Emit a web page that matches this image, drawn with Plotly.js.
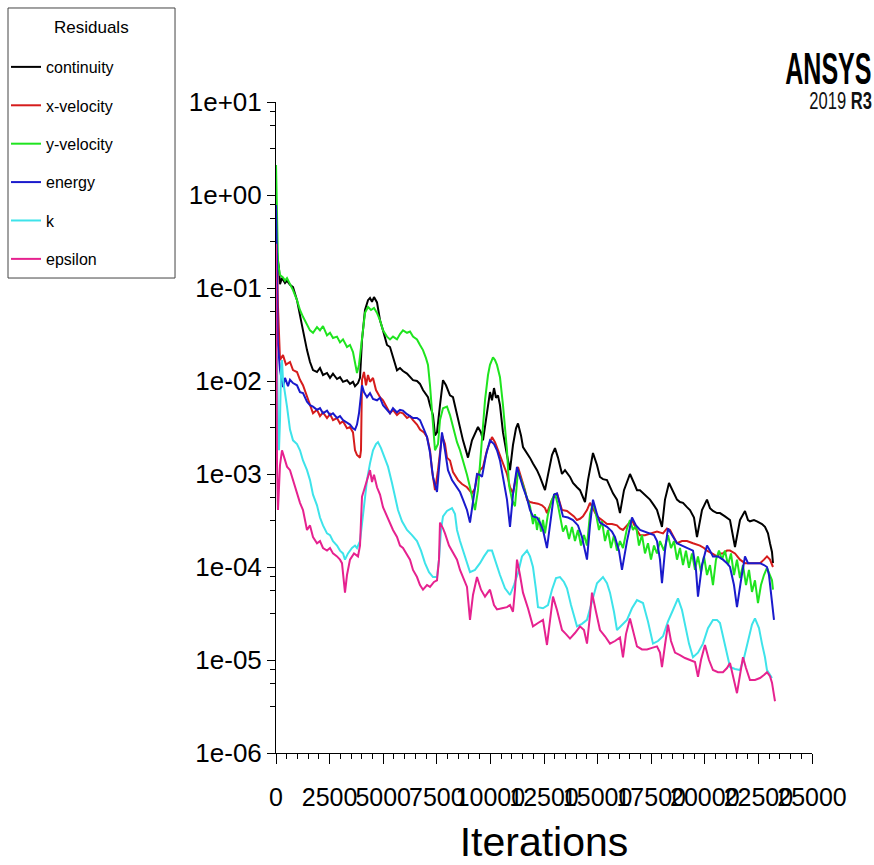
<!DOCTYPE html>
<html>
<head>
<meta charset="utf-8">
<script src="https://cdn.plot.ly/plotly-3.0.1.min.js"></script>
<style>
  html, body { margin: 0; padding: 0; background: #ffffff; }
  #chart { width: 874px; height: 865px; }
</style>
</head>
<body>
<div id="chart"></div>
<script>
// Scaled residual history of the solver run (log scale).

const continuityIter = [1,140,187,280,420,513,653,793,979,1119,1259,1446,1586,1726,1912,2052,2192,2379,2519,2658,2845,2985,3125,3311,3451,3591,3685,3824,3918,4011,4151,4291,4384,4478,4571,4711,4851,4991,5177,5317,5457,5643,5783,5923,6110,6250,6390,6576,6716,6856,7089,7183,7322,7416,7509,7649,7789,7929,8115,8255,8442,8582,8722,8955,9141,9421,9561,9655,9794,9888,9981,10074,10168,10261,10354,10447,10587,10774,10914,11053,11194,11287,11427,11520,11707,11847,11986,12173,12313,12546,12686,12873,13012,13152,13339,13479,13712,13852,14038,14178,14412,14552,14785,14971,15111,15251,15438,15578,15717,15904,16044,16231,16510,16697,16837,16977,17117,17303,17443,17630,17770,18003,18143,18330,18516,18703,18843,18983,19169,19309,19496,19636,19869,20102,20242,20381,20568,20708,20941,21175,21408,21641,21874,22014,22107,22294,22434,22667,22807,22947,23040,23134,23180];
const continuityRes = [0.3,0.16,0.11,0.128,0.113,0.12,0.108,0.102,0.074,0.049,0.035,0.0215,0.016,0.0131,0.0125,0.0138,0.0116,0.0122,0.0108,0.012,0.0105,0.011,0.0098,0.0102,0.0093,0.0098,0.0088,0.0095,0.0108,0.0276,0.058,0.074,0.078,0.071,0.08,0.07,0.045,0.035,0.0244,0.0232,0.018,0.013,0.0138,0.0128,0.012,0.011,0.0102,0.01,0.0093,0.008,0.0067,0.0055,0.0043,0.0026,0.0028,0.0055,0.0102,0.009,0.007,0.0067,0.0043,0.0032,0.0023,0.0015,0.0023,0.0032,0.0028,0.0023,0.0038,0.0055,0.0076,0.0062,0.0084,0.0066,0.007,0.0055,0.0028,0.0016,0.0011,0.00205,0.0031,0.0035,0.0026,0.00195,0.0017,0.00149,0.0013,0.0011,0.00093,0.00067,0.00098,0.0016,0.0019,0.0015,0.001,0.0011,0.00093,0.0008,0.00072,0.00067,0.0005,0.00086,0.00168,0.00125,0.00093,0.00088,0.00086,0.00072,0.00062,0.00053,0.00038,0.00067,0.001,0.0008,0.00067,0.00067,0.00062,0.00057,0.00053,0.00046,0.00041,0.00027,0.00053,0.0008,0.00064,0.00053,0.0005,0.00049,0.00044,0.00041,0.00034,0.00021,0.00041,0.00053,0.00043,0.0004,0.00038,0.00038,0.00035,0.00032,0.000164,0.00032,0.0004,0.00032,0.00031,0.00032,0.00031,0.00029,0.00027,0.00023,0.00018,0.000145,0.00011];

const xVelocityIter = [1,47,93,140,187,326,466,653,793,979,1119,1259,1446,1586,1726,1912,2052,2192,2379,2519,2658,2845,2985,3125,3311,3451,3591,3685,3778,3918,3964,4011,4104,4198,4291,4384,4524,4664,4851,4991,5177,5317,5457,5643,5783,5923,6110,6250,6390,6576,6716,6903,7043,7183,7276,7416,7556,7742,7882,7975,8115,8255,8488,8675,8908,9141,9281,9375,9515,9655,9841,10074,10214,10354,10587,10774,10914,11053,11287,11473,11613,11707,11847,11986,12220,12406,12546,12639,12873,13106,13246,13339,13572,13712,13899,14038,14178,14318,14505,14645,14832,14971,15205,15438,15671,15904,16044,16184,16371,16604,16790,16977,17210,17443,17770,18050,18236,18376,18563,18703,18936,19169,19449,19775,19962,20102,20335,20568,20708,20848,21035,21175,21408,21641,21874,22107,22340,22574,22760,22900,23040,23180];
const xVelocityRes = [0.3,0.2,0.0625,0.0276,0.0168,0.019,0.015,0.016,0.0131,0.0125,0.0103,0.009,0.0067,0.0055,0.0045,0.0049,0.0042,0.0046,0.004,0.0044,0.0038,0.004,0.0035,0.0037,0.0031,0.0032,0.0028,0.0018,0.0016,0.0015,0.0018,0.0103,0.0125,0.009,0.0116,0.0098,0.0108,0.008,0.0067,0.0062,0.0051,0.0045,0.0049,0.0043,0.0046,0.0045,0.004,0.0042,0.0038,0.0034,0.003,0.0028,0.0025,0.0018,0.0011,0.00067,0.0011,0.0026,0.0021,0.0015,0.0014,0.00105,0.00086,0.00078,0.00072,0.00062,0.0007,0.00093,0.0011,0.00119,0.0018,0.0025,0.0022,0.0018,0.00125,0.001,0.00072,0.00062,0.00119,0.00086,0.00067,0.00053,0.0005,0.00049,0.00048,0.00046,0.00043,0.00038,0.00053,0.00062,0.00049,0.00041,0.0004,0.00038,0.00035,0.00032,0.00033,0.00035,0.00041,0.00049,0.0004,0.00035,0.00032,0.00029,0.00029,0.00028,0.00026,0.00025,0.00028,0.00032,0.00026,0.00022,0.00022,0.00023,0.00024,0.00023,0.00026,0.00025,0.000205,0.00018,0.00019,0.00019,0.00018,0.00017,0.00016,0.00015,0.00014,0.00013,0.00014,0.00014,0.00015,0.00015,0.00014,0.00012,0.00011,0.00011,0.000108,0.00011,0.00012,0.00013,0.00012,0.0001];

const yVelocityIter = [1,47,70,93,187,326,420,513,653,793,979,1119,1259,1446,1586,1726,1912,2052,2192,2379,2519,2658,2845,2985,3125,3311,3451,3591,3685,3778,3871,4011,4151,4291,4431,4571,4711,4851,4991,5177,5317,5457,5643,5783,5923,6110,6250,6390,6576,6716,6856,6996,7089,7183,7276,7416,7556,7649,7789,7975,8115,8255,8442,8582,8722,8908,9048,9188,9281,9421,9608,9748,9888,9981,10121,10214,10307,10447,10587,10680,10774,10867,11007,11147,11287,11380,11520,11707,11847,11986,12080,12173,12266,12360,12453,12546,12686,12873,13012,13152,13292,13386,13526,13666,13806,13945,14085,14225,14365,14505,14645,14785,14925,15065,15205,15345,15484,15624,15764,15904,16044,16184,16371,16510,16650,16790,16930,17070,17210,17350,17490,17630,17770,17910,18096,18283,18423,18563,18703,18843,18983,19122,19262,19402,19542,19682,19822,19962,20102,20242,20381,20521,20661,20801,20941,21081,21221,21361,21501,21641,21781,21921,22061,22200,22340,22480,22620,22760,22900,23040,23134,23180];
const yVelocityRes = [2.1,0.69,0.33,0.186,0.138,0.13,0.12,0.128,0.11,0.095,0.074,0.058,0.049,0.04,0.035,0.033,0.038,0.035,0.039,0.031,0.033,0.029,0.03,0.026,0.028,0.0232,0.0244,0.0205,0.0149,0.0122,0.0149,0.0276,0.054,0.0625,0.058,0.061,0.054,0.045,0.035,0.03,0.028,0.03,0.028,0.032,0.035,0.033,0.034,0.03,0.028,0.0244,0.0215,0.0176,0.0149,0.009,0.0045,0.0018,0.0021,0.0038,0.0051,0.0053,0.0043,0.0032,0.0022,0.0018,0.0014,0.00098,0.00072,0.00053,0.00041,0.00067,0.0023,0.0062,0.0116,0.0149,0.018,0.0168,0.0149,0.011,0.0055,0.003,0.0018,0.00076,0.00053,0.00045,0.0011,0.00093,0.00076,0.00055,0.00045,0.00029,0.00037,0.00025,0.00034,0.00024,0.00032,0.00023,0.00037,0.00053,0.00062,0.00046,0.00032,0.00024,0.00028,0.0002,0.00027,0.00019,0.00025,0.00017,0.00022,0.00017,0.00037,0.00049,0.00037,0.00025,0.00031,0.00019,0.00025,0.00016,0.00022,0.00015,0.00019,0.00016,0.00026,0.00032,0.00025,0.00028,0.00017,0.00022,0.00014,0.00018,0.00012,0.00017,0.00014,0.00019,0.00015,0.00022,0.00016,0.00019,0.00012,0.00016,0.000105,0.00015,0.000098,0.00014,0.000093,0.00013,0.000088,0.00013,0.000082,0.000105,0.000064,0.00012,0.00015,0.00012,0.00015,0.000105,0.00014,0.000082,0.00012,0.000076,0.000105,0.000064,0.000093,0.000054,0.000072,0.000041,0.000064,0.000082,0.000098,0.000082,0.000072,0.000057];

const energyIter = [1,47,70,93,187,326,420,560,653,793,979,1119,1259,1446,1586,1726,1912,2052,2192,2379,2519,2658,2845,2985,3125,3311,3451,3591,3685,3778,3871,3964,4011,4104,4244,4384,4524,4711,4851,4991,5177,5317,5457,5643,5783,5923,6110,6250,6390,6576,6716,6903,7043,7183,7322,7509,7649,7742,7882,8022,8209,8442,8582,8722,8908,9048,9188,9375,9515,9608,9794,9981,10168,10307,10447,10587,10774,10914,11053,11240,11380,11520,11707,11847,11986,12173,12313,12453,12639,12826,12966,13106,13246,13386,13619,13852,14085,14272,14412,14505,14645,14785,14971,15111,15438,15671,15811,15997,16137,16371,16604,16790,16977,17210,17443,17630,17770,17910,18003,18143,18283,18470,18703,18936,19169,19449,19589,19682,19869,20102,20242,20381,20615,20848,21035,21175,21361,21501,21688,21874,22014,22200,22387,22574,22760,22900,22994,23087,23180,23227];
const energyRes = [0.78,0.2,0.035,0.0244,0.0131,0.0086,0.0108,0.0088,0.0103,0.0095,0.009,0.0076,0.0074,0.006,0.0055,0.0053,0.0049,0.0051,0.0045,0.0048,0.0043,0.0045,0.004,0.0042,0.0038,0.0036,0.0034,0.0031,0.003,0.0034,0.0045,0.0071,0.009,0.0076,0.0067,0.0074,0.0064,0.0062,0.0066,0.0055,0.0049,0.0045,0.0051,0.0046,0.0049,0.0048,0.0044,0.0042,0.004,0.004,0.0038,0.003,0.0025,0.0017,0.00093,0.00064,0.0016,0.0028,0.0018,0.0011,0.00086,0.00072,0.00064,0.00053,0.00041,0.0003,0.00053,0.001,0.00098,0.00093,0.0016,0.0023,0.0021,0.0018,0.0014,0.00093,0.00053,0.00027,0.0006,0.00119,0.0009,0.00072,0.00055,0.00041,0.00035,0.00034,0.0003,0.00025,0.00016,0.00037,0.0006,0.00062,0.00046,0.00035,0.00034,0.00032,0.00028,0.00021,0.00015,0.00012,0.00028,0.00053,0.00037,0.0003,0.00027,0.00024,0.00021,0.00015,0.000093,0.00019,0.00034,0.00028,0.00025,0.00024,0.00023,0.00022,0.00019,0.00012,0.000067,0.00015,0.00026,0.00022,0.00018,0.00017,0.00016,0.00015,0.000093,0.000048,0.000105,0.00017,0.00015,0.00013,0.00013,0.00012,0.00011,0.0001,0.000064,0.000037,0.000072,0.00013,0.00011,0.00011,0.00011,0.00011,0.000105,0.0001,0.000082,0.000053,0.000035,0.000027];

const kIter = [1,47,93,140,187,233,280,326,513,653,793,979,1119,1259,1446,1586,1726,1912,2052,2192,2379,2519,2658,2845,2985,3125,3218,3358,3545,3685,3778,3918,4011,4151,4244,4384,4524,4664,4757,4897,5084,5224,5410,5550,5690,5877,6110,6343,6576,6763,6949,7136,7322,7509,7602,7696,7789,7975,8209,8349,8442,8582,8722,8908,9048,9281,9515,9701,9888,10074,10261,10447,10680,10914,11100,11287,11473,11707,11847,11986,12126,12220,12453,12686,12873,13059,13246,13432,13572,13759,14038,14272,14505,14738,14971,15251,15438,15578,15764,15904,16137,16371,16604,16837,17117,17350,17583,17817,18050,18283,18516,18749,18936,19076,19262,19449,19682,19915,20148,20381,20568,20708,20941,21175,21408,21641,21828,22014,22200,22340,22527,22667,22807,22900,23040,23134];
const kRes = [0.025,0.017,0.0038,0.0018,0.0038,0.013,0.0168,0.0103,0.0053,0.003,0.0023,0.0021,0.0018,0.0014,0.0011,0.00086,0.0006,0.00046,0.00034,0.00028,0.00023,0.00022,0.00019,0.00017,0.00015,0.00014,0.00012,0.00014,0.00016,0.00017,0.00016,0.00019,0.00029,0.00057,0.00086,0.0013,0.0018,0.0021,0.0022,0.0019,0.0015,0.0012,0.0008,0.00057,0.00041,0.00031,0.00025,0.00022,0.00019,0.00015,0.00011,0.000088,0.000078,0.000078,0.00012,0.00025,0.00035,0.0004,0.00043,0.00037,0.00025,0.00019,0.00015,0.00011,0.000088,0.000093,0.00011,0.00013,0.00015,0.00015,0.00011,0.000082,0.000059,0.00005,0.000064,0.000086,0.00013,0.00015,0.00013,0.0001,0.000057,0.000037,0.000036,0.000039,0.000057,0.000076,0.000078,0.000069,0.000059,0.000039,0.000023,0.0000245,0.000027,0.000044,0.000067,0.000078,0.000067,0.000053,0.000033,0.000021,0.000024,0.000027,0.000036,0.000044,0.000041,0.000026,0.000015,0.000016,0.000018,0.000026,0.0000345,0.000046,0.0000345,0.000025,0.000015,0.0000107,0.000012,0.000015,0.000022,0.000027,0.000027,0.000025,0.0000145,0.0000084,0.000008,0.0000078,0.0000105,0.000016,0.000024,0.000028,0.000022,0.000015,0.0000107,0.0000078,0.0000069,0.0000064];

const epsilonIter = [1,47,93,140,187,280,373,513,653,793,933,1119,1259,1446,1586,1726,1912,2052,2192,2379,2519,2658,2845,2985,3078,3218,3311,3451,3638,3824,3918,4011,4104,4244,4337,4384,4478,4571,4711,4851,4991,5131,5317,5457,5643,5783,5923,6063,6250,6390,6576,6716,6856,7043,7183,7369,7509,7602,7649,7789,7882,8069,8255,8442,8582,8768,8908,9048,9188,9375,9561,9748,9981,10168,10307,10540,10774,10914,11053,11147,11240,11380,11520,11753,11986,12220,12453,12639,12779,12919,13106,13339,13526,13712,13945,14178,14365,14505,14645,14738,14925,15111,15345,15578,15811,16044,16184,16324,16510,16697,16837,17070,17303,17537,17770,17910,18003,18143,18283,18423,18610,18843,19076,19309,19542,19682,19822,20008,20195,20381,20615,20848,21035,21175,21315,21501,21641,21781,21921,22107,22340,22574,22760,22900,23040,23134,23227,23274];
const epsilonRes = [0.3,0.0013,0.00041,0.00086,0.00125,0.0018,0.0015,0.0012,0.0011,0.00086,0.00067,0.00049,0.00041,0.00025,0.00028,0.00021,0.00018,0.00019,0.00016,0.00015,0.00016,0.00014,0.00013,0.00012,0.00011,0.000053,0.000082,0.00012,0.00014,0.00013,0.00017,0.00057,0.00067,0.00086,0.00098,0.0011,0.00082,0.00098,0.00072,0.0006,0.00044,0.00037,0.0003,0.00025,0.00021,0.00017,0.00016,0.00014,0.00012,0.000093,0.000078,0.000064,0.000057,0.000064,0.000061,0.000069,0.000072,0.00012,0.0003,0.00026,0.00023,0.00017,0.00014,0.00012,0.000093,0.000072,0.000061,0.000027,0.00005,0.000078,0.000057,0.000048,0.000057,0.000039,0.000035,0.000036,0.000037,0.000039,0.000033,0.000057,0.00012,0.000082,0.000053,0.000036,0.000023,0.000025,0.000027,0.0000145,0.000027,0.000048,0.0000345,0.000021,0.000019,0.000017,0.0000195,0.000023,0.000021,0.000015,0.00003,0.000053,0.000033,0.000021,0.000018,0.000015,0.000016,0.0000175,0.0000107,0.000019,0.000028,0.000019,0.000014,0.000013,0.000013,0.0000135,0.000014,0.000012,0.0000084,0.0000145,0.000024,0.000016,0.000012,0.0000113,0.0000105,0.00001,0.0000095,0.0000066,0.00001,0.0000145,0.00001,0.0000078,0.0000074,0.0000074,0.0000082,0.0000093,0.0000069,0.0000044,0.0000069,0.0000107,0.0000082,0.0000061,0.0000061,0.0000064,0.0000069,0.0000074,0.0000067,0.0000057,0.0000042,0.0000036];

const seriesNames = ["continuity", "x-velocity", "y-velocity", "energy", "k", "epsilon"];
const seriesColors = ["#000000", "#d61c1c", "#1fe41f", "#1a1acc", "#3ee3ea", "#e6228f"];
const seriesIter = [continuityIter, xVelocityIter, yVelocityIter, energyIter, kIter, epsilonIter];
const seriesRes = [continuityRes, xVelocityRes, yVelocityRes, energyRes, kRes, epsilonRes];

const xTickVals = [0, 2500, 5000, 7500, 10000, 12500, 15000, 17500, 20000, 22500, 25000];
const xTickText = ["0", "2500", "5000", "7500", "10000", "12500", "15000", "17500", "20000", "22500", "25000"];
const yTickVals = [1e-6, 1e-5, 1e-4, 1e-3, 1e-2, 1e-1, 1e0, 1e1];
const yTickText = ["1e-06", "1e-05", "1e-04", "1e-03", "1e-02", "1e-01", "1e+00", "1e+01"];

// minor ticks sit at 10^0.5, 10^0.75 and 10^0.9 inside each decade
const yMinorVals = [];
for (let e = -6; e < 1; e++) {
  [0.5, 0.75, 0.9].forEach(f => yMinorVals.push(Math.pow(10, e + f)));
}

const traces = seriesNames.map((name, i) => ({
  type: "scatter",
  mode: "lines",
  name: name,
  legendgroup: name,
  x: seriesIter[i],
  y: seriesRes[i],
  line: { color: seriesColors[i], width: 2 },
  hoverinfo: "skip"
}));

const textFont = "Liberation Sans, Arial, sans-serif";
const logoFont = "Liberation Sans, Arial, sans-serif";

const layout = {
  width: 874,
  height: 865,
  margin: { l: 276, r: 62, t: 102, b: 112, autoexpand: false },
  paper_bgcolor: "#ffffff",
  plot_bgcolor: "#ffffff",
  showlegend: true,
  legend: {
    x: -0.5037, xanchor: "left",
    y: 1.0799, yanchor: "top",
    bgcolor: "rgba(0,0,0,0)",
    borderwidth: 0,
    traceorder: "grouped",
    tracegroupgap: 14.6,
    font: { family: textFont, size: 16, color: "#000000" }
  },
  xaxis: {
    range: [0, 25000],
    tickmode: "array",
    tickvals: xTickVals,
    ticktext: xTickText,
    tickangle: 0,
    ticks: "outside",
    ticklen: 10,
    tickwidth: 1,
    tickcolor: "#000000",
    ticklabelstandoff: 12,
    minor: { dtick: 500, ticks: "outside", ticklen: 5, tickwidth: 1, tickcolor: "#000000" },
    showline: true,
    linecolor: "#000000",
    linewidth: 1,
    showgrid: false,
    zeroline: false,
    tickfont: { family: textFont, size: 25, color: "#000000" },
    title: { text: "Iterations", standoff: 33, font: { family: textFont, size: 41, color: "#000000" } }
  },
  yaxis: {
    type: "log",
    range: [-6, 1],
    tickmode: "array",
    tickvals: yTickVals,
    ticktext: yTickText,
    ticks: "outside",
    ticklen: 8,
    tickwidth: 1,
    tickcolor: "#000000",
    minor: { tickmode: "array", tickvals: yMinorVals, ticks: "outside", ticklen: 5, tickwidth: 1, tickcolor: "#000000" },
    showline: true,
    linecolor: "#000000",
    linewidth: 1,
    showgrid: false,
    zeroline: false,
    tickfont: { family: textFont, size: 26, color: "#000000" }
  },
  shapes: [
    {
      type: "rect", xref: "paper", yref: "paper",
      x0: -0.5, x1: -0.1884, y0: 0.7296, y1: 1.1444,
      line: { color: "#444444", width: 1 },
      fillcolor: "rgba(0,0,0,0)"
    }
  ],
  annotations: [
    {
      xref: "paper", yref: "paper", x: -0.3442, y: 1.1137,
      xanchor: "center", yanchor: "middle", showarrow: false,
      text: "Residuals",
      font: { family: textFont, size: 17, color: "#000000" }
    },
    {
      xref: "paper", yref: "paper", x: 1.1150, y: 1.0522,
      xanchor: "right", yanchor: "middle", showarrow: false,
      text: "<b>ANSYS</b>",
      font: { family: logoFont, size: 44, color: "#000000" }
    },
    {
      xref: "paper", yref: "paper", x: 1.1150, y: 1.0015,
      xanchor: "right", yanchor: "middle", showarrow: false,
      text: "2019 <b>R3</b>",
      font: { family: logoFont, size: 23, color: "#111111" }
    }
  ]
};

// The logo type is a condensed face: narrow the two logo texts horizontally,
// keeping their right edges fixed.
function condenseLogo(gd) {
  const squeeze = { "ANSYS": 0.57, "2019 R3": 0.72 };
  gd.querySelectorAll("text.annotation-text").forEach(t => {
    const s = squeeze[t.textContent.trim()];
    if (!s) return;
    const bb = t.getBBox();
    const right = bb.x + bb.width;
    t.setAttribute("transform", "translate(" + (right * (1 - s)) + ",0) scale(" + s + ",1)");
  });
}

Plotly.newPlot("chart", traces, layout, { displayModeBar: false, staticPlot: true })
  .then(condenseLogo);
</script>
</body>
</html>
